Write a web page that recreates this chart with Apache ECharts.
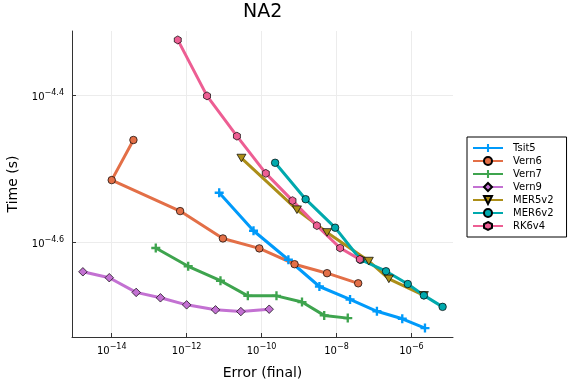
<!DOCTYPE html>
<html><head><meta charset="utf-8">
<script src="https://cdn.jsdelivr.net/npm/echarts@6/dist/echarts.min.js"></script>
<style>html,body{margin:0;padding:0;background:#fff}#c{width:576px;height:384px}</style>
</head><body><div id="c"></div>
<script>
// Values (error, time in seconds)
const tsit5Err  = [7.4e-12, 6.1e-11, 5.2e-10, 3.5e-9, 2.3e-8, 1.2e-7, 5.7e-7, 2.3e-6];
const tsit5Time = [2.932e-5, 2.603e-5, 2.377e-5, 2.186e-5, 2.099e-5, 2.023e-5, 1.976e-5, 1.919e-5];
const vern6Err  = [3.8e-14, 1.0e-14, 6.7e-13, 9.3e-12, 8.7e-11, 7.6e-10, 5.6e-9, 3.8e-8];
const vern6Time = [3.458e-5, 3.05e-5, 2.768e-5, 2.541e-5, 2.463e-5, 2.344e-5, 2.279e-5, 2.208e-5];
const vern7Err  = [1.5e-13, 1.1e-12, 8.0e-12, 4.3e-11, 2.5e-10, 1.2e-9, 4.7e-9, 2.0e-8];
const vern7Time = [2.466e-5, 2.329e-5, 2.226e-5, 2.123e-5, 2.123e-5, 2.082e-5, 1.997e-5, 1.98e-5];
const vern9Err  = [1.7e-15, 8.6e-15, 4.5e-14, 2.0e-13, 1.0e-12, 5.9e-12, 2.8e-11, 1.6e-10];
const vern9Time = [2.289e-5, 2.247e-5, 2.146e-5, 2.11e-5, 2.064e-5, 2.032e-5, 2.021e-5, 2.036e-5];
const mer5Err   = [2.9e-11, 8.8e-10, 5.6e-9, 7.3e-8, 2.5e-7, 2.15e-6];
const mer5Time  = [3.268e-5, 2.78e-5, 2.589e-5, 2.367e-5, 2.239e-5, 2.126e-5];
const mer6Err   = [2.3e-10, 1.5e-9, 9.2e-9, 4.4e-8, 2.1e-7, 8.0e-7, 2.15e-6, 6.8e-6];
const mer6Time  = [3.22e-5, 2.873e-5, 2.628e-5, 2.377e-5, 2.293e-5, 2.203e-5, 2.126e-5, 2.051e-5];
const rk6Err    = [5.8e-13, 3.5e-12, 2.2e-11, 1.3e-10, 6.7e-10, 3.0e-9, 1.25e-8, 4.2e-8];
const rk6Time   = [4.73e-5, 3.97e-5, 3.50e-5, 3.115e-5, 2.86e-5, 2.645e-5, 2.466e-5, 2.38e-5];

const xTickExps = [-14, -12, -10, -8, -6];
const yTickExps = [-4.6, -4.4];
const seriesNames = ['Tsit5', 'Vern6', 'Vern7', 'Vern9', 'MER5v2', 'MER6v2', 'RK6v4'];

const colors = ['#009AFA', '#E36F47', '#3EA44E', '#C371D2', '#AC8E18', '#00A9AD', '#ED5E93'];
const plusPath = 'path://M-1.3,-5H1.3V-1.3H5V1.3H1.3V5H-1.3V1.3H-5V-1.3H-1.3Z';
const hexPath = 'path://M0,-10L8.66,-5L8.66,5L0,10L-8.66,5L-8.66,-5Z';
const triPath = 'path://M-5,-4L5,-4L0,4.5Z';
const diaPath = 'path://M0,-5L5,0L0,5L-5,0Z';
const symbols = [plusPath, 'circle', plusPath, diaPath, triPath, 'circle', hexPath];
const symSizes = [9, 7.5, 9, 8.5, 9, 7.5, 8];

const errs = [tsit5Err, vern6Err, vern7Err, vern9Err, mer5Err, mer6Err, rk6Err];
const times = [tsit5Time, vern6Time, vern7Time, vern9Time, mer5Time, mer6Time, rk6Time];

const series = seriesNames.map((n, i) => ({
  name: n, type: 'line',
  data: errs[i].map((e, j) => [Math.log10(e), Math.log10(times[i][j])]),
  symbol: symbols[i], symbolSize: symSizes[i], symbolKeepAspect: true,
  showAllSymbol: true,
  lineStyle: { color: colors[i], width: 3 },
  itemStyle: { color: colors[i], borderColor: i === 0 || i === 2 ? colors[i] : '#000', borderWidth: i === 0 || i === 2 ? 0 : 0.7 },
  emphasis: { disabled: true },
  animation: false
}));

function supLabel(v) {
  const s = (Math.round(v * 10) / 10).toString().replace('-', '\u2212');
  return '{b|10}{s|' + s + '}';
}
const rich = {
  b: { fontSize: 10, fontFamily: 'DejaVu Sans', color: '#000', padding: [4, 0, 0, 0] },
  s: { fontSize: 8, fontFamily: 'DejaVu Sans', color: '#000', padding: [0, 0, 5, 0] }
};

const chart = echarts.init(document.getElementById('c'), null, { renderer: 'canvas' });
chart.setOption({
  animation: false,
  color: colors,
  title: { text: 'NA2', left: 238, top: -2,
    textStyle: { fontFamily: 'DejaVu Sans', fontSize: 19, fontWeight: 'normal', color: '#000' } },
  grid: { left: 72, top: 31, width: 381, height: 306, containLabel: false, outerBoundsMode: 'none' },
  xAxis: {
    type: 'value', min: -15.06, max: -4.89,
    name: 'Error (final)', nameLocation: 'middle', nameGap: 29,
    nameTextStyle: { fontFamily: 'DejaVu Sans', fontSize: 14, color: '#000' },
    axisLine: { show: true, lineStyle: { color: '#333', width: 1 } },
    axisTick: { show: true, inside: true, length: 4, customValues: xTickExps, lineStyle: { color: '#333' } },
    axisLabel: { customValues: xTickExps, formatter: supLabel, rich: rich, margin: 5 },
    splitLine: { show: true, lineStyle: { color: '#ececec', width: 1 } }
  },
  yAxis: {
    type: 'value', min: -4.729, max: -4.313,
    name: 'Time (s)', nameLocation: 'middle', nameGap: 52, nameRotate: 90,
    nameTextStyle: { fontFamily: 'DejaVu Sans', fontSize: 14, color: '#000' },
    axisLine: { show: true, lineStyle: { color: '#333', width: 1 } },
    axisTick: { show: true, inside: true, length: 4, customValues: yTickExps, lineStyle: { color: '#333' } },
    axisLabel: { customValues: yTickExps, formatter: supLabel, rich: rich, margin: 8 },
    splitLine: { show: true, lineStyle: { color: '#ececec', width: 1 } }
  },
  legend: {
    orient: 'vertical', left: 467, top: 137,
    padding: [6, 13, 6, 5], itemGap: 3, itemWidth: 30, itemHeight: 10,
    borderColor: '#000', borderWidth: 1, borderRadius: 0,
    textStyle: { fontFamily: 'DejaVu Sans', fontSize: 10, color: '#000', padding: [0, 0, 0, 5] },
    data: seriesNames
  },
  series: series
});
</script></body></html>
